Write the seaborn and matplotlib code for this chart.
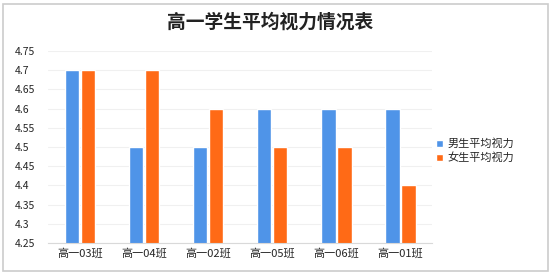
import pandas as pd
import matplotlib
matplotlib.use("Agg")
import matplotlib.pyplot as plt
import seaborn as sns
from matplotlib.patches import Rectangle

# Data
classes = ["高一03班", "高一04班", "高一02班", "高一05班", "高一06班", "高一01班"]
boys = [4.7, 4.5, 4.5, 4.6, 4.6, 4.6]
girls = [4.7, 4.7, 4.6, 4.5, 4.5, 4.4]
series_names = ["男生平均视力", "女生平均视力"]
y_ticks = [4.25, 4.3, 4.35, 4.4, 4.45, 4.5, 4.55, 4.6, 4.65, 4.7, 4.75]

df = pd.DataFrame({
    "班级": classes * 2,
    "视力": boys + girls,
    "组": [series_names[0]] * len(classes) + [series_names[1]] * len(classes),
})

sns.set_style("white")
plt.rcParams['font.family'] = ['Noto Sans CJK SC', 'DejaVu Sans']

fig = plt.figure(figsize=(5.57, 2.77), dpi=100)
ax = fig.add_axes([0.086, 0.123, 0.69, 0.693])

palette = {series_names[0]: "#4f94e8", series_names[1]: "#ff6a16"}
sns.barplot(data=df, x="班级", y="视力", hue="组", palette=palette,
            width=0.5, gap=0.08, saturation=1, ax=ax, legend=True)

ax.set_ylim(4.25, 4.75)
ax.set_yticks(y_ticks)
ax.set_yticklabels([f"{t:g}" for t in y_ticks], fontsize=7.5)
ax.tick_params(axis="x", labelsize=8, length=0, pad=4)
ax.tick_params(axis="y", length=0, pad=24)
for lbl in ax.get_yticklabels():
    lbl.set_horizontalalignment("left")
ax.set_xlabel("")
ax.set_ylabel("")
ax.yaxis.grid(True, color="#f0f0f0", linewidth=0.8)
ax.set_axisbelow(True)
for s in ["left", "right", "top"]:
    ax.spines[s].set_visible(False)
ax.spines["bottom"].set_color("#d9d9d9")

leg = ax.legend(loc="center left", bbox_to_anchor=(0.985, 0.48), frameon=False,
                fontsize=8, handlelength=0.6, handleheight=0.6, handletextpad=0.4,
                labelspacing=0.3)

fig.text(0.485, 0.92, "高一学生平均视力情况表", ha="center", va="center",
         fontsize=13.5, fontweight="bold", color="#222222")

fig.patches.append(Rectangle((0.006, 0.02), 0.978, 0.965, transform=fig.transFigure,
                             fill=False, edgecolor="#cccccc", linewidth=1.2))

fig.savefig("out.png", dpi=100)
